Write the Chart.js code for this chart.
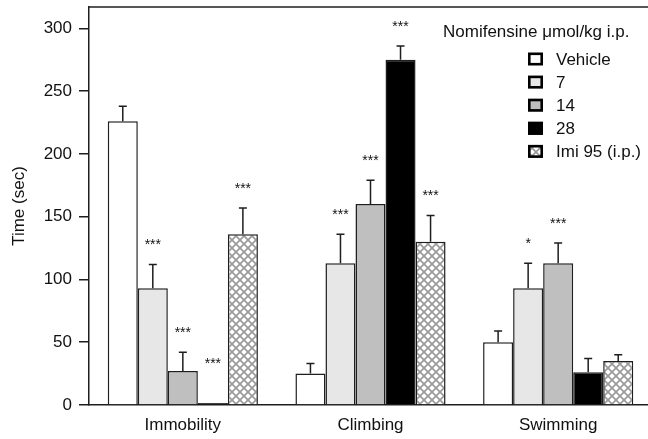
<!DOCTYPE html>
<html>
<head>
<meta charset="utf-8">
<title>Forced swim test: nomifensine</title>
<style>
  html, body { margin: 0; padding: 0; background: #ffffff; overflow: hidden; }
  canvas { display: block; }
</style>
<script src="https://cdn.jsdelivr.net/npm/chart.js@4/dist/chart.umd.min.js"></script>
</head>
<body>
<canvas id="chart" width="652" height="439"></canvas>
<script>
// Behaviours scored in the forced swim test
const categories = ['Immobility', 'Climbing', 'Swimming'];

// Treatment groups (nomifensine doses in µmol/kg i.p., imipramine reference)
const legendTitle = 'Nomifensine \u03bcmol/kg i.p.';
const groupLabels = ['Vehicle', '7', '14', '28', 'Imi 95 (i.p.)'];

// Mean time (sec) per behaviour, and its SEM
const vehicleMean = [226, 25, 50];
const vehicleSem  = [12, 8, 9];
const nomi7Mean   = [93, 113, 93];
const nomi7Sem    = [19, 23, 20];
const nomi14Mean  = [27, 160, 113];
const nomi14Sem   = [15, 19, 16];
const nomi28Mean  = [1.5, 275, 26];
const nomi28Sem   = [0, 11, 11];
const imiMean     = [136, 130, 35];
const imiSem      = [21, 21, 5];

// Significance versus vehicle
const vehicleSig = ['', '', ''];
const nomi7Sig   = ['***', '***', '*'];
const nomi14Sig  = ['***', '***', '***'];
const nomi28Sig  = ['***', '***', ''];
const imiSig     = ['***', '***', ''];

// Y axis
const yTicks = [0, 50, 100, 150, 200, 250, 300];
const yMax = 317;

const FONT = '"Liberation Sans", Arial, Helvetica, sans-serif';
const INK = '#111111';
const LINE = '#1e1e1e';

Chart.defaults.font.family = FONT;
Chart.defaults.font.size = 17;
Chart.defaults.color = INK;

const canvas = document.getElementById('chart');
const ctx = canvas.getContext('2d');

// Grey diagonal lattice used for the imipramine bars
function crossHatch() {
  const t = document.createElement('canvas');
  t.width = 8; t.height = 8;
  const g = t.getContext('2d');
  g.fillStyle = '#ffffff';
  g.fillRect(0, 0, 8, 8);
  g.strokeStyle = '#9a9a9a';
  g.lineWidth = 1.7;
  g.beginPath();
  g.moveTo(-1, -1); g.lineTo(9, 9);
  g.moveTo(9, -1);  g.lineTo(-1, 9);
  g.stroke();
  return ctx.createPattern(t, 'repeat');
}

const series = [
  { label: groupLabels[0], mean: vehicleMean, sem: vehicleSem, sig: vehicleSig, fill: '#ffffff' },
  { label: groupLabels[1], mean: nomi7Mean,   sem: nomi7Sem,   sig: nomi7Sig,   fill: '#e7e7e7' },
  { label: groupLabels[2], mean: nomi14Mean,  sem: nomi14Sem,  sig: nomi14Sig,  fill: '#bfbfbf' },
  { label: groupLabels[3], mean: nomi28Mean,  sem: nomi28Sem,  sig: nomi28Sig,  fill: '#000000' },
  { label: groupLabels[4], mean: imiMean,     sem: imiSem,     sig: imiSig,     fill: crossHatch() }
];

// Error bars (upper half only) and significance stars
const errorBars = {
  id: 'errorBars',
  afterDatasetsDraw(chart) {
    const c = chart.ctx;
    const y = chart.scales.y;
    const base = y.getPixelForValue(0);
    c.save();
    c.strokeStyle = LINE;
    c.lineWidth = 1.5;
    chart.data.datasets.forEach((ds, di) => {
      const meta = chart.getDatasetMeta(di);
      meta.data.forEach((bar, i) => {
        const v = ds.data[i];
        const e = ds.sem[i];
        const yTop = y.getPixelForValue(v);
        const yErr = y.getPixelForValue(v + e);
        if (e > 0) {
          c.beginPath();
          c.moveTo(bar.x, yTop);
          c.lineTo(bar.x, yErr);
          c.moveTo(bar.x - 4, yErr);
          c.lineTo(bar.x + 4, yErr);
          c.stroke();
        }
        const s = ds.sig[i];
        if (s) {
          const yc = Math.min(yErr - 23, base - 45);
          c.fillStyle = INK;
          c.font = '14px ' + FONT;
          c.textAlign = 'center';
          c.textBaseline = 'alphabetic';
          c.fillText(s, bar.x, yc + 8);
        }
      });
    });
    c.restore();
  }
};

// Top frame line and the legend block
const frameAndLegend = {
  id: 'frameAndLegend',
  afterDraw(chart) {
    const c = chart.ctx;
    const a = chart.chartArea;
    c.save();
    c.strokeStyle = LINE;
    c.lineWidth = 1.5;
    c.beginPath();
    c.moveTo(a.left, a.top);
    c.lineTo(a.right, a.top);
    c.stroke();

    c.fillStyle = INK;
    c.font = '17px ' + FONT;
    c.textAlign = 'left';
    c.textBaseline = 'middle';
    c.fillText(legendTitle, a.right - 209, a.top + 25);

    chart.data.datasets.forEach((ds, i) => {
      const yc = a.top + 52 + i * 23.1;
      const bx = a.right - 124;
      c.fillStyle = ds.backgroundColor;
      c.fillRect(bx, yc - 6.5, 15, 13);
      c.strokeStyle = '#000000';
      c.lineWidth = 2.6;
      c.strokeRect(bx + 1.3, yc - 5.2, 12.4, 10.4);
      c.fillStyle = INK;
      c.fillText(ds.label, a.right - 96, yc + 1);
    });
    c.restore();
  }
};

new Chart(ctx, {
  type: 'bar',
  data: {
    labels: categories,
    datasets: series.map(s => ({
      label: s.label,
      data: s.mean,
      sem: s.sem,
      sig: s.sig,
      backgroundColor: s.fill,
      borderColor: LINE,
      borderWidth: 1.5,
      categoryPercentage: 0.8,
      barPercentage: 1.0
    }))
  },
  options: {
    responsive: false,
    animation: false,
    devicePixelRatio: 1,
    layout: { padding: { top: 7, right: 0, bottom: 0, left: 0 } },
    plugins: {
      legend: { display: false },
      tooltip: { enabled: false }
    },
    scales: {
      x: {
        grid: { display: false, drawTicks: false },
        border: { display: true, color: LINE, width: 1.5 },
        ticks: { padding: 10, color: INK, font: { size: 17 } },
        afterFit(s) { s.height = 34; s.paddingLeft = 0; s.paddingRight = 0; }
      },
      y: {
        min: 0,
        max: yMax,
        grid: { display: true, drawOnChartArea: false, drawTicks: true, tickLength: 10, color: LINE, lineWidth: 1.5 },
        border: { display: true, color: LINE, width: 1.5 },
        ticks: { stepSize: 50, padding: 7, includeBounds: false, color: INK, font: { size: 17 } },
        afterBuildTicks(s) { s.ticks = yTicks.map(v => ({ value: v })); },
        title: { display: true, text: 'Time (sec)', color: INK, font: { size: 17 }, padding: { top: 9, bottom: 0 } },
        afterFit(s) { s.width = 89; s.paddingTop = 0; s.paddingBottom = 0; }
      }
    }
  },
  plugins: [errorBars, frameAndLegend]
});
</script>
</body>
</html>
